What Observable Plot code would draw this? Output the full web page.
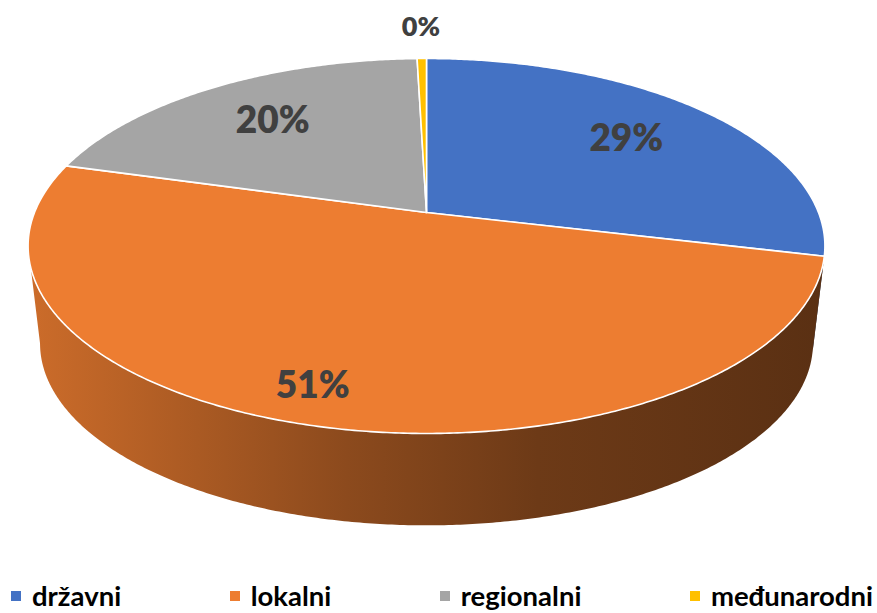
<!DOCTYPE html>
<html>
<head>
<meta charset="utf-8">
<script src="https://cdn.jsdelivr.net/npm/d3@7"></script>
<script src="https://cdn.jsdelivr.net/npm/@observablehq/plot@0.6"></script>
<style>
  html, body { margin: 0; padding: 0; background: #ffffff; }
  body { width: 877px; height: 613px; overflow: hidden; font-family: Lato, "Open Sans", sans-serif; }
  #legend { display: flex; justify-content: space-between; align-items: center;
            height: 35px; padding: 0 4px 0 11px; box-sizing: border-box; width: 877px; }
  .item { display: flex; align-items: center; font-weight: 700; font-size: 27.5px; color: #000; }
  .sw { width: 10px; height: 10px; margin-right: 11px; display: inline-block; }
</style>
</head>
<body>
<div id="chart"></div>
<div id="legend"></div>
<script>
// ---- data ----
const categories = ["državni", "lokalni", "regionalni", "međunarodni"];
const values = [28.7, 50.6, 20.2, 0.45];
const colors = ["#4472c4", "#ed7d31", "#a5a5a5", "#ffc000"];

// ---- geometry of the 3D perspective pie ----
const W = 877, H = 578;
const cx = 426, cy = 212, R = 392, B = 181.5, k = 0.1786;
const depthScale = 0.97, cyBottom = cy + 98.5;
const deg = Math.PI / 180;

function topPt(a, f = 1) {
  const u = Math.sin(a) * f, v = -Math.cos(a) * f, s = 1 / (1 - k * v);
  return {x: cx + R * u * s, y: cy + B * v * s};
}
function botPt(a) {
  const u = Math.sin(a), v = -Math.cos(a), s = 1 / (1 - k * v);
  return {x: cx + R * depthScale * u * s, y: cyBottom + B * depthScale * v * s};
}

const total = d3.sum(values);
let acc = 0;
const slices = values.map((v, i) => {
  const a0 = acc / total * 2 * Math.PI;
  acc += v;
  const a1 = acc / total * 2 * Math.PI;
  return {i, name: categories[i], value: v, share: v / total, a0, a1, color: colors[i]};
});

function arcAngles(a0, a1) {
  const n = Math.max(2, Math.ceil((a1 - a0) / (0.5 * deg)));
  return d3.range(n + 1).map(j => a0 + (a1 - a0) * j / n);
}

// top faces
const topMarks = slices.map(s => {
  const pts = [{x: cx, y: cy}, ...arcAngles(s.a0, s.a1).map(a => topPt(a)), {x: cx, y: cy}];
  return Plot.line(pts, {x: "x", y: "y", fill: s.color, stroke: "white", strokeWidth: 1.6, strokeLinejoin: "round"});
});

// side walls (visible front part only)
const visStart = Math.acos(-k), visEnd = 2 * Math.PI - Math.acos(-k);
const wallMarks = [];
slices.forEach(s => {
  const a0 = Math.max(s.a0, visStart), a1 = Math.min(s.a1, visEnd);
  if (a1 <= a0) return;
  const angs = arcAngles(a0, a1);
  const pts = [...angs.map(a => topPt(a)), ...angs.slice().reverse().map(a => botPt(a))];
  wallMarks.push(Plot.line(pts, {x: "x", y: "y", fill: `url(#side-${s.i})`, stroke: "none"}));
});

// labels
const labels = slices.map(s => {
  const mid = (s.a0 + s.a1) / 2 + Math.max(0, s.share - 0.3) * 0.2;
  const f = s.share < 0.02 ? 1.25 : 0.7 + Math.max(0, s.share - 0.3) * 0.75;
  const p = topPt(mid, f);
  return {x: p.x, y: p.y, text: Math.round(s.share * 100) + "%", small: s.share < 0.02};
});

const plot = Plot.plot({
  width: W, height: H, margin: 0,
  style: {background: "white", fontFamily: "Lato, 'Open Sans', sans-serif"},
  x: {domain: [0, W], range: [0, W], axis: null},
  y: {domain: [0, H], range: [0, H], axis: null},
  marks: [
    ...wallMarks,
    ...topMarks,
    Plot.text(labels.filter(d => !d.small), {x: "x", y: "y", text: "text", fontSize: 37, fontWeight: 800, fill: "#404040"}),
    Plot.text(labels.filter(d => d.small), {x: "x", y: "y", text: "text", fontSize: 27, fontWeight: 800, fill: "#404040"})
  ]
});

// gradients for the side walls
const xs = plot.scale("x");
const defs = d3.select(plot).insert("defs", ":first-child");
const stops = [[0, 0.86], [0.4, 0.59], [0.64, 0.46], [1, 0.38]];
slices.forEach(s => {
  const c = d3.rgb(s.color);
  const g = defs.append("linearGradient").attr("id", `side-${s.i}`)
    .attr("gradientUnits", "userSpaceOnUse")
    .attr("x1", xs.apply(cx - R * 1.016)).attr("x2", xs.apply(cx + R * 1.016))
    .attr("y1", 0).attr("y2", 0);
  stops.forEach(([o, m]) => {
    g.append("stop").attr("offset", o)
      .attr("stop-color", d3.rgb(c.r * m, c.g * m, c.b * m).formatHex());
  });
});

document.getElementById("chart").appendChild(plot);

// legend
const legend = d3.select("#legend");
categories.forEach((c, i) => {
  const it = legend.append("div").attr("class", "item");
  it.append("span").attr("class", "sw").style("background", colors[i]);
  it.append("span").text(c);
});
</script>
</body>
</html>
